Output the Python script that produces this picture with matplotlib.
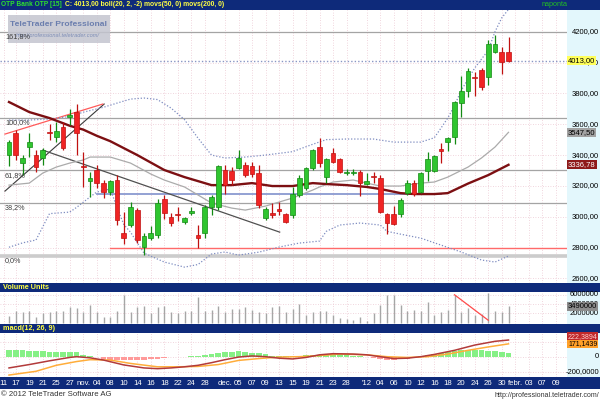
import matplotlib
matplotlib.use("Agg")
import matplotlib.pyplot as plt
from matplotlib.patches import Rectangle
from matplotlib.transforms import blended_transform_factory
import numpy as np

plt.rcParams['font.family'] = ['Liberation Sans', 'DejaVu Sans']

# OTP Bank daily candles, 14.10.2011 - 31.01.2012
opens = [3400, 3541, 3346, 3454, 3400, 3378, 3551, 3519, 3584, 3649,
         3681, 3329, 3231, 3303, 3216, 3162, 3238, 2892, 2946, 3043,
         2805, 2860, 2881, 3113, 3000, 3019, 2967, 3026, 2881, 2892,
         3061, 3061, 3303, 3298, 3314, 3335, 3329, 3285, 2989, 3022,
         3048, 3015, 3011, 3140, 3184, 3314, 3450, 3259, 3415, 3372,
         3285, 3285, 3292, 3212, 3259, 3250, 3015, 3015, 3015, 3153,
         3218, 3160, 3296, 3296, 3439, 3484, 3517, 3737, 3815, 3906,
         3952, 3906, 4068, 4068, 4068]
highs = [3497, 3562, 3400, 3541, 3432, 3443, 3599, 3616, 3616, 3698,
         3729, 3421, 3292, 3335, 3238, 3238, 3270, 3032, 3097, 3054,
         2894, 2940, 3113, 3140, 3022, 3061, 3000, 3061, 2946, 3076,
         3140, 3335, 3335, 3320, 3432, 3357, 3357, 3335, 3061, 3087,
         3097, 3022, 3194, 3270, 3324, 3437, 3508, 3379, 3443, 3379,
         3307, 3307, 3303, 3281, 3292, 3270, 3022, 3070, 3119, 3238,
         3238, 3292, 3419, 3400, 3478, 3517, 3750, 3913, 3964, 3939,
         3964, 4146, 4178, 4101, 4166]
lows = [3331, 3368, 3270, 3389, 3292, 3335, 3497, 3486, 3432, 3595,
        3400, 3194, 3130, 3184, 3119, 3140, 2946, 2821, 2935, 2829,
        2751, 2849, 2860, 2983, 2940, 2974, 2952, 3011, 2795, 2860,
        3011, 3043, 3147, 3205, 3307, 3259, 3259, 3054, 2978, 2989,
        3011, 2957, 2989, 3126, 3173, 3303, 3324, 3216, 3346, 3281,
        3270, 3270, 3134, 3205, 3216, 3022, 2886, 2946, 3000, 3140,
        3134, 3156, 3231, 3290, 3348, 3426, 3471, 3646, 3776, 3783,
        3822, 3854, 4062, 3926, 4003]
closes = [3486, 3400, 3379, 3486, 3324, 3432, 3545, 3556, 3443, 3660,
          3541, 3322, 3253, 3216, 3162, 3231, 2978, 2864, 3065, 2849,
          2874, 2896, 3087, 3026, 2957, 3013, 2989, 3039, 2860, 3061,
          3126, 3329, 3205, 3238, 3379, 3270, 3277, 3076, 3048, 3011,
          3039, 2967, 3147, 3249, 3314, 3432, 3350, 3372, 3357, 3292,
          3292, 3292, 3216, 3233, 3255, 3032, 2957, 2952, 3108, 3218,
          3147, 3283, 3374, 3393, 3426, 3510, 3744, 3815, 3945, 3900,
          3841, 4120, 4120, 4003, 4013]
volume_m = [1.4, 2.4, 2.3, 2.6, 1.3, 2.0, 2.2, 2.6, 2.5, 3.4,
            3.1, 2.2, 3.7, 2.2, 1.2, 1.1, 2.5, 5.9, 2.3, 3.3,
            3.6, 2.1, 3.4, 3.6, 2.2, 2.0, 2.6, 2.6, 5.5, 2.5,
            2.8, 3.5, 2.3, 3.0, 3.0, 3.4, 2.8, 2.2, 2.0, 3.3,
            3.5, 2.3, 3.0, 4.0, 1.6, 2.2, 2.6, 2.5, 1.6, 0.9,
            0.8, 0.5, 1.3, 0.4, 2.0, 3.8, 6.0, 6.0, 3.8, 2.5,
            2.8, 2.5, 4.4, 1.6, 2.2, 2.8, 6.0, 2.2, 3.1, 1.6,
            1.9, 6.4, 2.4, 2.2, 3.49]

# indicator curves, sampled at candle indices
bb_up_idx = [0, 3, 6, 9, 11, 14, 16, 18, 20, 22, 24, 26, 28, 30, 32, 35, 38, 42,
             45, 47, 50, 54, 57, 61, 63, 64, 65, 66, 67, 69, 71, 72, 73, 74]
bb_up = [3627, 3627, 3634, 3650, 3678, 3710, 3737, 3763, 3770, 3760, 3705, 3630,
         3510, 3400, 3381, 3387, 3400, 3422, 3470, 3500, 3504, 3504, 3484, 3484,
         3512, 3575, 3640, 3720, 3820, 3965, 4080, 4200, 4290, 4345]
bb_lo_idx = [0, 2, 4, 6, 9, 10, 12, 13, 15, 16, 17, 18, 20, 23, 26, 28, 30, 32,
             34, 37, 40, 43, 46, 47, 49, 52, 55, 56, 58, 61, 64, 67, 70, 72, 74]
bb_lo = [2802, 2830, 2849, 3020, 3030, 3060, 3128, 3160, 3180, 3060, 2950, 2900,
         2764, 2706, 2673, 2690, 2758, 2771, 2751, 2770, 2803, 2829, 2842, 2905,
         2946, 2959, 2946, 2905, 2887, 2861, 2816, 2771, 2719, 2706, 2745]
bb_mid_idx = [0, 3, 5, 7, 9, 11, 12, 15, 18, 21, 23, 26, 28, 30, 33, 35, 38, 40,
              42, 45, 46, 48, 51, 53, 55, 58, 61, 63, 65, 68, 70, 72, 74]
bb_mid = [3205, 3218, 3283, 3322, 3348, 3368, 3387, 3387, 3348, 3277, 3238, 3193,
          3141, 3089, 3056, 3043, 3069, 3095, 3121, 3173, 3193, 3225, 3238, 3218,
          3199, 3199, 3218, 3225, 3257, 3322, 3381, 3452, 3547.5]
ma50_idx = [0, 3, 6, 9, 11, 13, 15, 17, 19, 23, 26, 28, 30, 33, 36, 39, 42, 45,
            47, 50, 53, 55, 58, 60, 63, 65, 68, 71, 74]
ma50 = [3744, 3679, 3640, 3590, 3565, 3525, 3490, 3445, 3400, 3303, 3257, 3231,
        3205, 3205, 3218, 3199, 3199, 3218, 3212, 3205, 3193, 3180, 3153, 3147,
        3147, 3153, 3215, 3270, 3336.78]

macd_idx = [0, 3, 6, 9, 10, 12, 14, 17, 20, 22, 24, 26, 28, 30, 32, 34, 36, 38,
            40, 42, 44, 46, 48, 51, 53, 55, 57, 59, 61, 63, 66, 69, 72, 74]
macd_val = [-150, -105, -55, -10, 0, -15, -45, -110, -150, -160, -150, -135, -115,
            -80, -40, -5, 10, 0, -20, -30, -10, 25, 40, 35, 25, 0, -25, -20, 0, 30,
            85, 155, 205, 222.39]
sig_idx = [0, 4, 7, 10, 12, 15, 18, 22, 25, 28, 31, 34, 37, 40, 43, 46, 49, 53,
           56, 59, 62, 65, 68, 71, 74]
sig_val = [-245, -195, -115, -65, -40, -45, -90, -135, -135, -130, -105, -50, -25,
           -5, 0, 15, 35, 25, 0, -10, 0, 35, 85, 130, 171.14]
hist_val = [92, 90, 88, 78, 75, 72, 68, 66, 64, 62, 60, 20, 5, -10, -25, -40, -48,
            -50, -50, -50, -45, -35, -25, -15, -8, -3, 0, 3, 8, 20, 35, 50, 60, 68,
            72, 68, 55, 45, 30, 15, 8, 5, 8, 15, 20, 25, 28, 28, 25, 22, 18, 12, 5,
            -5, -20, -30, -38, -40, -35, -25, -12, 5, 20, 35, 45, 60, 75, 85, 90,
            90, 85, 80, 70, 60, 50]

fib_levels = [4198, 3643, 3300, 3088, 2745]
fib_labels = ["161,8%", "100,0%", "61,8%", "38,2%", "0,0%"]

# hand drawn lines: ([index0, index1], [value0, value1])
trend_black = ([-0.6, 14.1], [3166, 3731])
trend_red = ([-0.6, 13.9], [3536, 3731])
trend_down = ([5.0, 40.1], [3432, 2900])
level_blue = ([13, 64], [3147, 3147])
level_red = ([15, 90], [2800, 2800])
vol_trend = ([66, 71], [6.0, 0.5])

tick_pos = [-0.8, 1, 3, 5, 7, 9, 11, 13, 15, 17, 19, 21, 23, 25, 27, 29, 32, 34,
            36, 38, 40, 42, 44, 46, 48, 50, 53, 55, 57, 59, 61, 63, 65, 67, 69, 71,
            73, 75, 77, 79, 81]
tick_lab = ["11", "17", "19", "21", "25", "27", "nov.", "04", "08", "10", "14",
            "16", "18", "22", "24", "28", "dec.", "05", "07", "09", "13", "15",
            "19", "21", "23", "28", "'12", "04", "06", "10", "12", "16", "18",
            "20", "24", "26", "30", "febr.", "03", "07", "09"]

last_close = 4013.00

# ---- layout, in pixels of the 600x400 picture ----
W, H = 600, 400
RIGHT = 567
NAVY = '#0e2a7a'
CYAN = '#e3f7fc'
GRID = '#ecc8d2'
FS = 5.5


def box(x0, y0, x1, y1):
    return [x0 / W, 1 - y1 / H, (x1 - x0) / W, (y1 - y0) / H]


def fy(py):
    return 1 - py / H


def comma(v, d):
    return f"{v:.{d}f}".replace('.', ',')


fig = plt.figure(figsize=(6, 4), dpi=100, facecolor='white')


def frect(x0, y0, x1, y1, color, z=0, alpha=1.0):
    fig.add_artist(Rectangle((x0 / W, 1 - y1 / H), (x1 - x0) / W, (y1 - y0) / H,
                             transform=fig.transFigure, fc=color, ec='none',
                             zorder=z, alpha=alpha))


frect(0, 0, 600, 10, NAVY)
frect(0, 283, 600, 292, NAVY)
frect(0, 323.5, 600, 333, NAVY)
frect(0, 377, 600, 389, NAVY)
frect(RIGHT, 10, 600, 283, CYAN)
frect(RIGHT, 292, 600, 323.5, CYAN)
frect(RIGHT, 333, 600, 377, CYAN)

ax = fig.add_axes(box(0, 10, RIGHT, 283))
axv = fig.add_axes(box(0, 292, RIGHT, 323.5))
axm = fig.add_axes(box(0, 333, RIGHT, 377))

xlim = (-9 / 6.75, (RIGHT - 9) / 6.75)
for a in (ax, axv, axm):
    a.set_xlim(*xlim)
    a.set_facecolor('white')
    for s in a.spines.values():
        s.set_visible(False)
    a.set_xticks(tick_pos)
    a.tick_params(length=0, labelleft=False, labelbottom=False)
    a.grid(True, color=GRID, lw=0.6, ls=(0, (1, 2)))
    a.set_axisbelow(True)

# ---- price panel ----
ax.set_ylim(2570, 4341)
ax.set_yticks(range(2600, 4201, 200))

for lv in fib_levels[:-1]:
    ax.axhline(lv, color='#a4a4a4', lw=0.9, zorder=1)
ax.axhline(fib_levels[-1], color='#cccccc', lw=2.6, zorder=1)
ax.axhline(last_close, color='#8a96c4', lw=1.0, ls=(0, (1, 1.5)), zorder=1)

ax.plot(level_blue[0], level_blue[1], color='#8a9ad0', lw=1.3, zorder=2)
ax.plot(level_red[0], level_red[1], color='#ff6a6a', lw=1.0, zorder=2)
ax.plot(trend_black[0], trend_black[1], color='#3a3a3a', lw=0.8, zorder=2)
ax.plot(trend_red[0], trend_red[1], color='#ff5a5a', lw=0.9, zorder=2)
ax.plot(trend_down[0], trend_down[1], color='#505050', lw=0.9, zorder=2)

ax.plot(bb_up_idx, bb_up, color='#7e8cc0', lw=0.9, ls=(0, (1, 1.5)), zorder=2)
ax.plot(bb_lo_idx, bb_lo, color='#7e8cc0', lw=0.9, ls=(0, (1, 1.5)), zorder=2)
ax.plot(bb_mid_idx, bb_mid, color='#ababab', lw=0.9, zorder=2)
ax.plot(ma50_idx, ma50, color='#7c0f12', lw=1.7, zorder=2)

o = np.array(opens, float)
h = np.array(highs, float)
l = np.array(lows, float)
c = np.array(closes, float)
idx = np.arange(len(c))
up = c >= o
body_col = np.where(up, '#2fc52f', '#f02424')
edge_col = np.where(up, '#138a13', '#c01010')
ax.vlines(idx, l, h, colors=edge_col, lw=0.9, zorder=3)
ax.bar(idx, np.maximum(np.abs(c - o), 6), bottom=np.minimum(o, c), width=0.68,
       color=body_col, edgecolor=edge_col, lw=0.5, zorder=4)

# watermark box (inside the price axes so the level labels sit on top of it)
ax.add_patch(Rectangle((8 / W, fy(43)), 102 / W, 28 / H, transform=fig.transFigure,
                       fc='#c3c5cf', ec='none', alpha=0.85, zorder=5, clip_on=False))
ax.text(58 / W, fy(25), "TeleTrader Professional", transform=fig.transFigure,
        ha='center', va='center', fontsize=6.1, weight='bold', color='#6b7eae',
        zorder=6)
ax.text(58 / W, fy(35.5), "http://professional.teletrader.com/",
        transform=fig.transFigure, ha='center', va='center', fontsize=4.1,
        style='italic', color='#7d8db6', zorder=6)

ytr = blended_transform_factory(fig.transFigure, ax.transData)
for lv, txt in zip(fib_levels, fib_labels):
    ax.text(5 / W, lv - 8, txt, transform=ytr, ha='left', va='top',
            fontsize=5.2, color='#3c3c3c', zorder=7)

for v in range(2600, 4201, 200):
    ax.text(599 / W, v, comma(v, 2), transform=ytr, ha='right',
            va='center', fontsize=FS, clip_on=False)
ax.text(568 / W, last_close, comma(last_close, 2), transform=ytr,
        ha='left', va='center', fontsize=FS, clip_on=False,
        bbox=dict(boxstyle='square,pad=0.12', fc='#ffff5a', ec='none'))
ax.text(568 / W, bb_mid[-1], comma(bb_mid[-1], 2), transform=ytr,
        ha='left', va='center', fontsize=FS, clip_on=False,
        bbox=dict(boxstyle='square,pad=0.12', fc='#a2a2a2', ec='none'))
ax.text(568 / W, ma50[-1], comma(ma50[-1], 2), transform=ytr,
        ha='left', va='center', fontsize=FS, color='white', clip_on=False,
        bbox=dict(boxstyle='square,pad=0.12', fc='#8e1a1a', ec='none'))

# ---- volume panel ----
axv.set_ylim(-0.2, 6.6)
axv.set_yticks([2, 4, 6])
axv.vlines(idx, 0, volume_m, colors='#a6a6a6', lw=1.0, zorder=3)
axv.plot(vol_trend[0], vol_trend[1], color='#ff4a4a', lw=0.9, zorder=4)
vtr = blended_transform_factory(fig.transFigure, axv.transData)
for v in (2, 4, 6):
    axv.text(599 / W, v, f"{int(v * 1e6)}", transform=vtr, ha='right',
             va='center', fontsize=FS, clip_on=False)
axv.text(568 / W, volume_m[-1], f"{int(round(volume_m[-1] * 1e6))}", transform=vtr,
         ha='left', va='center', fontsize=FS, clip_on=False,
         bbox=dict(boxstyle='square,pad=0.12', fc='#8c8c8c', ec='none'))

# ---- macd panel ----
axm.set_ylim(-271, 316)
axm.set_yticks([-200, 0, 200])
hv = np.array(hist_val, float)
axm.bar(idx, hv, width=0.85, color=np.where(hv >= 0, '#86f086', '#ff9a9a'),
        lw=0, zorder=2)
axm.plot(sig_idx, sig_val, color='#ffad3a', lw=1.1, zorder=3)
axm.plot(macd_idx, macd_val, color='#b23a3a', lw=1.1, zorder=4)
mtr = blended_transform_factory(fig.transFigure, axm.transData)
for v in (-200, 0, 200):
    axm.text(599 / W, v, "0" if v == 0 else comma(v, 4),
             transform=mtr, ha='right', va='center', fontsize=FS, clip_on=False)
axm.text(568 / W, macd_val[-1] + 45, "222,3894", transform=mtr, ha='left',
         va='center', fontsize=5.0, color='#ffd0d0', clip_on=False,
         bbox=dict(boxstyle='square,pad=0.1', fc='#c0282a', ec='none'))
axm.text(568 / W, sig_val[-1], "171,1439", transform=mtr, ha='left',
         va='center', fontsize=5.0, clip_on=False,
         bbox=dict(boxstyle='square,pad=0.1', fc='#ffa028', ec='none'))

# date axis under the macd panel
axm.tick_params(labelbottom=True, pad=2.2, labelsize=5.6, labelcolor='white')
axm.set_xticklabels(tick_lab)

# ---- header texts ----
fig.text(1 / W, fy(5), "OTP Bank OTP [15]", color='#2ee02e', fontsize=4.8,
         weight='bold', va='center')
fig.text(65 / W, fy(5), "C: 4013,00 boll(20, 2, -2) movs(50, 0) movs(200, 0)",
         color='#ffff44', fontsize=4.9, weight='bold', va='center')
fig.text(542 / W, fy(5), "naponta", color='#22c022', fontsize=5.2, va='center')
fig.text(3 / W, fy(287.5), "Volume Units", color='#ffff44', fontsize=5.2,
         weight='bold', va='center')
fig.text(3 / W, fy(328), "macd(12, 26, 9)", color='#ffff44', fontsize=5.2,
         weight='bold', va='center')
fig.text(1 / W, fy(395), "\u00a9 2012 TeleTrader Software AG", color='#333333',
         fontsize=5.6, va='center')
fig.text(599 / W, fy(395.5), "http://professional.teletrader.com/", color='#333333',
         fontsize=5, va='center', ha='right')

fig.savefig("out.png", dpi=100, facecolor='white')
